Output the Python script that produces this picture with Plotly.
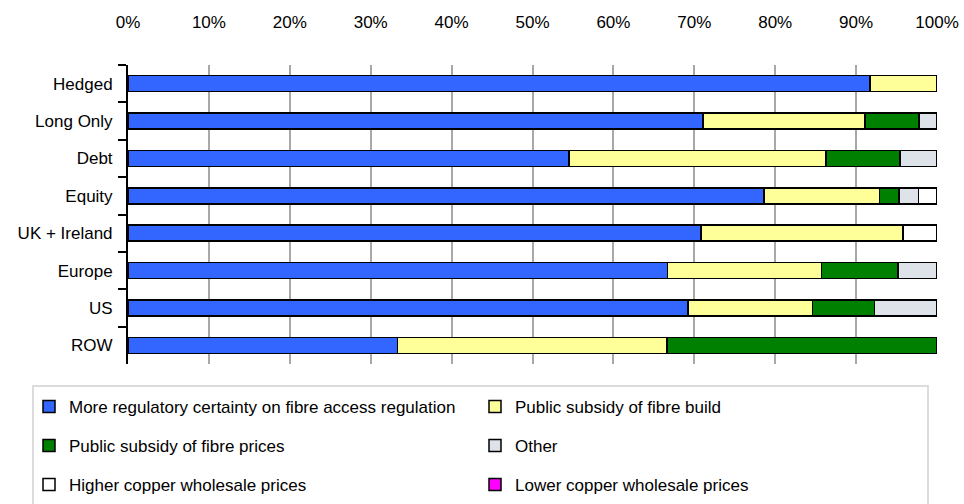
import plotly.graph_objects as go

categories = ["Hedged", "Long Only", "Debt", "Equity", "UK + Ireland", "Europe", "US", "ROW"]

series_names = [
    "More regulatory certainty on fibre access regulation",
    "Public subsidy of fibre build",
    "Public subsidy of fibre prices",
    "Other",
    "Higher copper wholesale prices",
    "Lower copper wholesale prices",
]
reg_certainty = [91.7, 71.1, 54.5, 78.6, 70.8, 66.7, 69.2, 33.3]
subsidy_build = [8.3, 20.0, 31.8, 14.3, 25.0, 19.0, 15.4, 33.3]
subsidy_prices = [0.0, 6.7, 9.1, 2.4, 0.0, 9.5, 7.7, 33.4]
other = [0.0, 2.2, 4.6, 2.4, 0.0, 4.8, 7.7, 0.0]
higher_copper = [0.0, 0.0, 0.0, 2.3, 4.2, 0.0, 0.0, 0.0]
lower_copper = [0.0, 0.0, 0.0, 0.0, 0.0, 0.0, 0.0, 0.0]

series_values = [reg_certainty, subsidy_build, subsidy_prices, other, higher_copper, lower_copper]
colors = ["#3366FF", "#FFFF99", "#008000", "#DDE3E9", "#FFFFFF", "#FF00FF"]
legend_ids = ["legend", "legend", "legend2", "legend2", "legend3", "legend3"]

FONT = "Liberation Sans Narrow, Arial Narrow, Liberation Sans, Arial, sans-serif"

fig = go.Figure()
for name, vals, col, lg in zip(series_names, series_values, colors, legend_ids):
    fig.add_trace(go.Bar(
        y=categories, x=vals, name=name, orientation="h",
        marker=dict(color=col, line=dict(color="black", width=1.5)),
        legend=lg,
    ))

W, H = 964, 504
ml, mr, mt, mb = 128, 27, 65, 140
pw, ph = W - ml - mr, H - mt - mb

def px_x(px):
    return (px - ml) / pw

def px_y(py):
    return (H - mb - py) / ph

leg_common = dict(
    orientation="h", xanchor="left", yanchor="middle",
    xref="paper", yref="paper",
    x=px_x(29), entrywidth=401, entrywidthmode="pixels",
    bgcolor="rgba(0,0,0,0)", font=dict(family=FONT, size=17, color="black"),
    traceorder="normal",
)

fig.update_layout(
    width=W, height=H,
    margin=dict(l=ml, r=mr, t=mt, b=mb, autoexpand=False),
    paper_bgcolor="white", plot_bgcolor="white",
    barmode="stack", bargap=0.57,
    font=dict(family=FONT, size=17, color="black"),
    showlegend=True,
    legend=dict(leg_common, y=px_y(407)),
    legend2=dict(leg_common, y=px_y(446)),
    legend3=dict(leg_common, y=px_y(485)),
    xaxis=dict(
        side="top", range=[0, 100], dtick=10, ticksuffix="%",
        showgrid=True, gridcolor="#A8A8A8", gridwidth=2,
        zeroline=False, showline=False, ticks="", automargin=False,
        ticklabelstandoff=33, tickfont=dict(family=FONT, size=17),
    ),
    yaxis=dict(
        autorange="reversed", showgrid=False, showline=True, automargin=False,
        linecolor="black", linewidth=2, ticks="outside", tickson="boundaries",
        ticklen=8, tickwidth=2, tickcolor="black", ticklabelstandoff=10,
        tickfont=dict(family=FONT, size=17),
    ),
    shapes=[dict(
        type="rect", xref="paper", yref="paper",
        x0=px_x(33), x1=px_x(928), y0=px_y(386), y1=px_y(506),
        line=dict(color="#DCDCDC", width=2), fillcolor="rgba(0,0,0,0)",
    )],
)

fig.write_html(
    "out.html",
    config={"displayModeBar": False},
    post_script="document.body.style.margin='0';document.body.style.overflow='hidden';",
)
